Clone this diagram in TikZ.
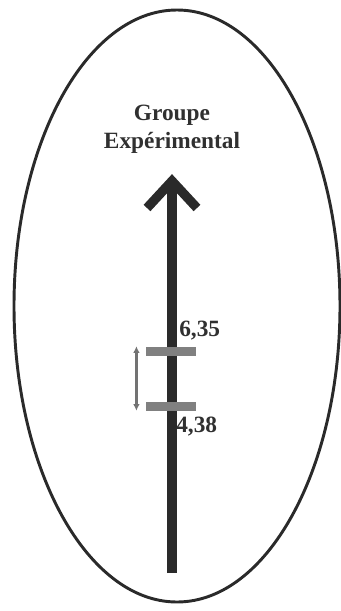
\documentclass[tikz,border=0pt]{standalone}
\usepackage{fontspec}
\setmainfont{Liberation Serif}
\usepackage{tikz}
\usetikzlibrary{arrows.meta,positioning}
\definecolor{egDark}{RGB}{42,42,42}
\definecolor{egGray}{RGB}{128,128,128}
\definecolor{egText}{RGB}{48,48,48}

\begin{document}
\begin{tikzpicture}[x=0.75pt,y=-0.75pt,
    bar/.style={fill=egGray, minimum width=37.5pt, minimum height=6.75pt, inner sep=0pt},
    val/.style={text=egText, font=\fontsize{17.5}{20}\selectfont\bfseries, inner sep=0pt, anchor=west}]

    \useasboundingbox (0,0) rectangle (341,611);

    % outer ellipse
    \draw[egDark, line width=2.2pt] (177,306) ellipse [x radius=163, y radius=296];

    % main arrow: shaft and chevron head
    \coordinate (base) at (172,573);
    \coordinate (tip) at (172,181);
    \draw[egDark, line width=7.2pt] (base) -- (tip);
    \draw[egDark, line width=7pt, miter limit=10] (147,208) -- (tip) -- (197,208);

    % group title
    \node[text=egText, align=center, font=\fontsize{17.5}{21}\selectfont\bfseries] (title) at (172,129)
        {Groupe\\Expérimental};

    % the two marks on the arrow
    \node[bar] (bar635) at (171,351) {};
    \node[bar] (bar438) at (171,406) {};

    % gap between the marks
    \draw[egGray!90!black, line width=2.2pt, {Latex[length=5pt,width=5pt]}-{Latex[length=5pt,width=5pt]}]
        ([xshift=-7pt]bar635.north west) -- ([xshift=-7pt]bar438.south west);

    % values
    \node[val] (v635) at (179,331) {6,35};
    \node[val] (v438) at (176,427) {4,38};

\end{tikzpicture}
\end{document}
